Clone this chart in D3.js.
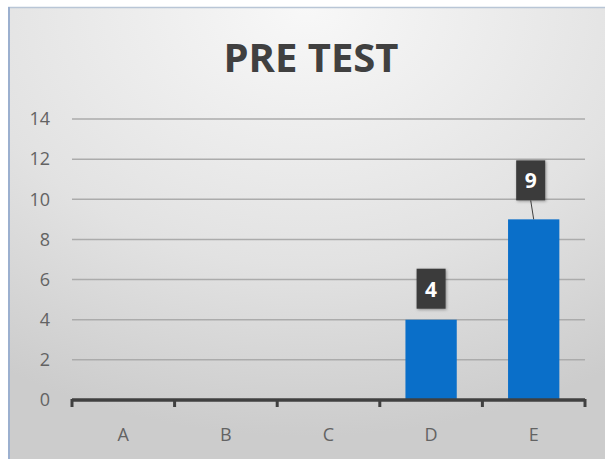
<!DOCTYPE html>
<html>
    <head>
        <title>Pre Test</title>
        <meta charset="utf-8"/>
        <script src="https://d3js.org/d3.v7.min.js"></script>
        <style>
            body { margin: 0; background: #fff; }
        </style>
    </head>
    <body>
        <div id='output'></div>
        <script>
            //Chart data
            var categories = ["A", "B", "C", "D", "E"];
            var scores = [0, 0, 0, 4, 9];
            var yTicks = [0, 2, 4, 6, 8, 10, 12, 14];
            var chartTitle = "PRE TEST";

            var W = 608, H = 459;
            var margin = {top: 119, right: 23, bottom: 59, left: 72},
                width = 585 - margin.left,
                height = 400 - margin.top;

            var root = d3.select("#output")
                .append("svg")
                .attr("width", W)
                .attr("height", H);

            //Background gradient like the office chart area
            var defs = root.append("defs");
            var grad = defs.append("radialGradient")
                .attr("id", "bg")
                .attr("cx", "50%").attr("cy", "0%")
                .attr("r", "95%")
                .attr("fx", "50%").attr("fy", "0%");
            grad.append("stop").attr("offset", "0%").attr("stop-color", "#f8f8f8");
            grad.append("stop").attr("offset", "60%").attr("stop-color", "#e2e2e2");
            grad.append("stop").attr("offset", "100%").attr("stop-color", "#cccccc");

            var shadow = defs.append("filter").attr("id", "shadow")
                .attr("x", "-30%").attr("y", "-30%").attr("width", "160%").attr("height", "160%");
            shadow.append("feDropShadow")
                .attr("dx", 1).attr("dy", 1).attr("stdDeviation", 1.5)
                .attr("flood-color", "#000").attr("flood-opacity", 0.35);

            root.append("rect")
                .attr("x", 8).attr("y", 7)
                .attr("width", 597).attr("height", H - 7)
                .style("fill", "url(#bg)");
            //frame edges
            root.append("line")
                .attr("x1", 8).attr("x2", 605).attr("y1", 7.5).attr("y2", 7.5)
                .style("stroke", "#b9c6d6").style("stroke-width", 1.5);
            root.append("line")
                .attr("x1", 9).attr("x2", 9).attr("y1", 7).attr("y2", H)
                .style("stroke", "#9cb0cf").style("stroke-width", 2);

            //Title
            root.append("text")
                .attr("x", 311)
                .attr("y", 72)
                .attr("text-anchor", "middle")
                .style("font-family", "Open Sans")
                .style("font-weight", "bold")
                .style("font-size", "40px")
                .style("fill", "#404040")
                .text(chartTitle);

            var svg = root.append("g")
                .attr("transform", "translate(" + margin.left + "," + margin.top + ")");

            var x = d3.scaleBand()
                .domain(categories)
                .range([0, width])
                .paddingInner(0.5)
                .paddingOuter(0.25);

            var y = d3.scaleLinear()
                .domain([0, 14])
                .range([height, 0]);

            //Gridlines
            svg.selectAll(".grid")
                .data(yTicks.filter(function(d) { return d > 0; }))
                .enter()
                .append("line")
                .attr("x1", 0)
                .attr("x2", width)
                .attr("y1", function(d) { return y(d); })
                .attr("y2", function(d) { return y(d); })
                .style("stroke", "#ababab")
                .style("stroke-width", 1.5);

            //Y axis labels
            var yAxis = svg.append("g")
                .attr("transform", "translate(-22,0)")
                .call(d3.axisLeft(y).tickValues(yTicks).tickSize(0).tickPadding(0));
            yAxis.select(".domain").remove();
            yAxis.selectAll("text")
                .style("font-family", "Open Sans")
                .style("font-size", "18px")
                .style("fill", "#636363");

            //Bars
            svg.selectAll(".bar")
                .data(scores)
                .enter()
                .append("rect")
                .attr("x", function(d, i) { return x(categories[i]); })
                .attr("y", function(d) { return y(d); })
                .attr("width", x.bandwidth())
                .attr("height", function(d) { return height - y(d); })
                .style("fill", "#0a6fc9");

            //X axis
            var step = x.step();
            var xAxis = svg.append("g")
                .attr("transform", "translate(0," + height + ")");
            xAxis.append("line")
                .attr("x1", 0).attr("x2", width)
                .style("stroke", "#404040").style("stroke-width", 3.5);
            xAxis.selectAll(".tick")
                .data(d3.range(categories.length + 1))
                .enter()
                .append("line")
                .attr("x1", function(i) { return i === categories.length ? width : x(categories[i]) - step * 0.25; })
                .attr("x2", function(i) { return i === categories.length ? width : x(categories[i]) - step * 0.25; })
                .attr("y1", -1).attr("y2", 7)
                .style("stroke", "#404040").style("stroke-width", 3);
            xAxis.selectAll(".lbl")
                .data(categories)
                .enter()
                .append("text")
                .attr("x", function(d) { return x(d) + x.bandwidth() / 2; })
                .attr("y", 41)
                .attr("text-anchor", "middle")
                .style("font-family", "Open Sans")
                .style("font-size", "18px")
                .style("fill", "#636363")
                .text(function(d) { return d; });

            //Data labels (only non-zero values shown)
            var labelLift = {"D": 11, "E": 19};
            var labelled = categories.map(function(c, i) { return {cat: c, val: scores[i]}; })
                .filter(function(d) { return d.val > 0; });
            var lg = svg.selectAll(".dl")
                .data(labelled)
                .enter()
                .append("g")
                .attr("transform", function(d) {
                    var cx = x(d.cat) + x.bandwidth() / 2 - (d.cat === "E" ? 3 : 0);
                    return "translate(" + cx + "," + (y(d.val) - labelLift[d.cat]) + ")";
                });
            //leader line for the moved label
            lg.filter(function(d) { return d.cat === "E"; })
                .append("line")
                .attr("x1", 0).attr("y1", 0)
                .attr("x2", 3).attr("y2", 19)
                .style("stroke", "#404040").style("stroke-width", 1);
            lg.append("rect")
                .attr("x", -14.5).attr("y", -40)
                .attr("width", 29).attr("height", 40)
                .style("fill", "#3a3a3a")
                .attr("filter", "url(#shadow)");
            lg.append("text")
                .attr("x", 0).attr("y", -12)
                .attr("text-anchor", "middle")
                .style("font-family", "Open Sans")
                .style("font-weight", "bold")
                .style("font-size", "21px")
                .style("fill", "#ffffff")
                .text(function(d) { return d.val; });
        </script>
    </body>
</html>
